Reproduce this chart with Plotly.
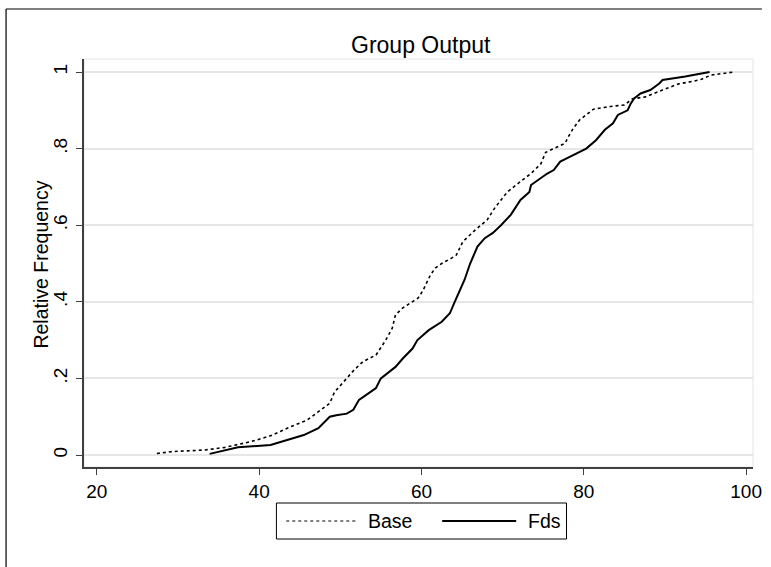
import plotly.graph_objects as go

# ---- data ----
series_names = ["Base", "Fds"]

base_x = [27.4, 29.3, 33.3, 35.8, 39.0, 41.4, 43.9, 45.9, 47.3, 48.7, 49.3, 49.7,
          51.7, 52.8, 54.4, 55.6, 56.4, 56.8, 57.7, 59.6, 60.2, 61.1, 61.7, 62.5,
          63.7, 64.3, 65.1, 66.6, 68.1, 69.0, 69.8, 70.6, 72.2, 73.5, 74.7, 75.3,
          76.3, 77.7, 78.1, 78.7, 79.5, 80.5, 81.2, 83.3, 85.0, 86.0, 87.6, 89.7,
          91.7, 93.3, 94.5, 95.7, 98.5]
base_y = [0.004, 0.009, 0.013, 0.020, 0.035, 0.050, 0.074, 0.091, 0.113, 0.135, 0.165, 0.174,
          0.222, 0.244, 0.261, 0.300, 0.331, 0.366, 0.384, 0.410, 0.430, 0.470, 0.488, 0.500,
          0.514, 0.522, 0.557, 0.587, 0.614, 0.644, 0.666, 0.687, 0.714, 0.735, 0.760, 0.790,
          0.800, 0.814, 0.831, 0.853, 0.875, 0.892, 0.903, 0.910, 0.914, 0.930, 0.935, 0.953,
          0.969, 0.975, 0.981, 0.992, 1.000]

fds_x = [33.9, 35.4, 37.4, 41.4, 43.5, 45.5, 47.3, 47.9, 48.7, 49.5, 50.8, 51.6,
         52.3, 53.2, 54.4, 55.0, 56.8, 57.7, 58.9, 59.5, 60.9, 62.5, 63.5, 64.1,
         65.3, 66.0, 66.9, 67.8, 68.8, 69.8, 71.0, 72.2, 73.3, 73.5, 75.5, 76.3,
         77.1, 78.7, 80.3, 81.5, 82.6, 83.6, 84.2, 85.4, 85.8, 86.2, 87.0, 88.2,
         89.3, 89.7, 92.5, 95.5]
fds_y = [0.003, 0.011, 0.020, 0.026, 0.039, 0.052, 0.070, 0.083, 0.100, 0.104, 0.108, 0.118,
         0.144, 0.157, 0.175, 0.200, 0.230, 0.252, 0.278, 0.300, 0.326, 0.348, 0.370, 0.400,
         0.457, 0.500, 0.544, 0.566, 0.580, 0.600, 0.627, 0.666, 0.687, 0.705, 0.735, 0.744,
         0.766, 0.783, 0.800, 0.822, 0.849, 0.866, 0.888, 0.900, 0.918, 0.931, 0.944, 0.953,
         0.970, 0.979, 0.988, 1.000]

x_tickvals = [20, 40, 60, 80, 100]
x_ticktext = ["20", "40", "60", "80", "100"]
y_tickvals = [0, 0.2, 0.4, 0.6, 0.8, 1.0]
y_ticktext = ["0", ".2", ".4", ".6", ".8", "1"]

FONT = "Arial, 'Liberation Sans', sans-serif"
W, H = 771, 567
L, R, T, B = 84, 762, 59, 467   # plot area in pixels


def px(xp):
    return (xp - L) / (R - L)


def py(yp):
    return (B - yp) / (B - T)


fig = go.Figure()
fig.add_trace(go.Scatter(x=base_x, y=base_y, mode="lines", name=series_names[0],
                         line=dict(color="black", width=1.6, dash="dot"),
                         showlegend=False))
fig.add_trace(go.Scatter(x=fds_x, y=fds_y, mode="lines", name=series_names[1],
                         line=dict(color="black", width=2),
                         showlegend=False))

LEG_T, LEG_B = 503, 539
LEG_C = (LEG_T + LEG_B) / 2

shapes = []
# light plot-region frame
shapes.append(dict(type="rect", xref="paper", yref="paper", x0=0, x1=1, y0=0, y1=1,
                   line=dict(color="#e4e4e4", width=1), layer="below"))
# outer graph border (left and top visible)
shapes.append(dict(type="line", xref="paper", yref="paper",
                   x0=px(5), x1=px(5), y0=py(567), y1=py(9), line=dict(color="black", width=1.2)))
shapes.append(dict(type="line", xref="paper", yref="paper",
                   x0=px(5), x1=px(771), y0=py(9), y1=py(9), line=dict(color="black", width=1.2)))
# legend box
shapes.append(dict(type="rect", xref="paper", yref="paper",
                   x0=px(279), x1=px(573), y0=py(LEG_B), y1=py(LEG_T),
                   line=dict(color="black", width=1), fillcolor="white"))
# legend samples
shapes.append(dict(type="line", xref="paper", yref="paper",
                   x0=px(289), x1=px(360), y0=py(LEG_C), y1=py(LEG_C),
                   line=dict(color="black", width=1.2, dash="dot")))
shapes.append(dict(type="line", xref="paper", yref="paper",
                   x0=px(447), x1=px(522), y0=py(LEG_C), y1=py(LEG_C),
                   line=dict(color="black", width=2)))

annotations = [
    dict(text="Group Output", xref="paper", yref="paper", x=px(426), y=py(45),
         xanchor="center", yanchor="middle", showarrow=False,
         font=dict(family=FONT, size=23, color="black")),
    dict(text="Relative Frequency", xref="paper", yref="paper", x=px(40), y=py(265),
         xanchor="center", yanchor="middle", textangle=-90, showarrow=False,
         font=dict(family=FONT, size=19.5, color="black")),
    dict(text=series_names[0], xref="paper", yref="paper", x=px(370), y=py(LEG_C),
         xanchor="left", yanchor="middle", showarrow=False,
         font=dict(family=FONT, size=19.5, color="black")),
    dict(text=series_names[1], xref="paper", yref="paper", x=px(532), y=py(LEG_C),
         xanchor="left", yanchor="middle", showarrow=False,
         font=dict(family=FONT, size=19.5, color="black")),
]

fig.update_layout(
    width=W, height=H,
    margin=dict(l=L, r=W - R, t=T, b=H - B, pad=0),
    paper_bgcolor="white", plot_bgcolor="white",
    font=dict(family=FONT, size=19, color="black"),
    shapes=shapes, annotations=annotations,
    showlegend=False,
)
x0 = 20 + (L - 97) / 8.225
x1 = 20 + (R - 97) / 8.225
fig.update_xaxes(range=[x0, x1], tickvals=x_tickvals, ticktext=x_ticktext,
                 showgrid=False, zeroline=False, showline=True, linecolor="#404040",
                 linewidth=1.5, ticks="outside", ticklen=6, tickcolor="#404040",
                 tickwidth=1.2, ticklabelstandoff=0,
                 tickfont=dict(family=FONT, size=19, color="black"))
y0 = (455 - B) / 383
y1 = (455 - T) / 383
fig.update_yaxes(range=[y0, y1], tickvals=y_tickvals, ticktext=y_ticktext,
                 showgrid=True, gridcolor="#e6e6e6", gridwidth=1.5, zeroline=False,
                 showline=True, linecolor="#404040", linewidth=1.5,
                 ticks="outside", ticklen=6, tickcolor="#404040", tickwidth=1.2,
                 tickangle=-90, ticklabelstandoff=2,
                 tickfont=dict(family=FONT, size=19, color="black"))

fig.write_html("out.html")
